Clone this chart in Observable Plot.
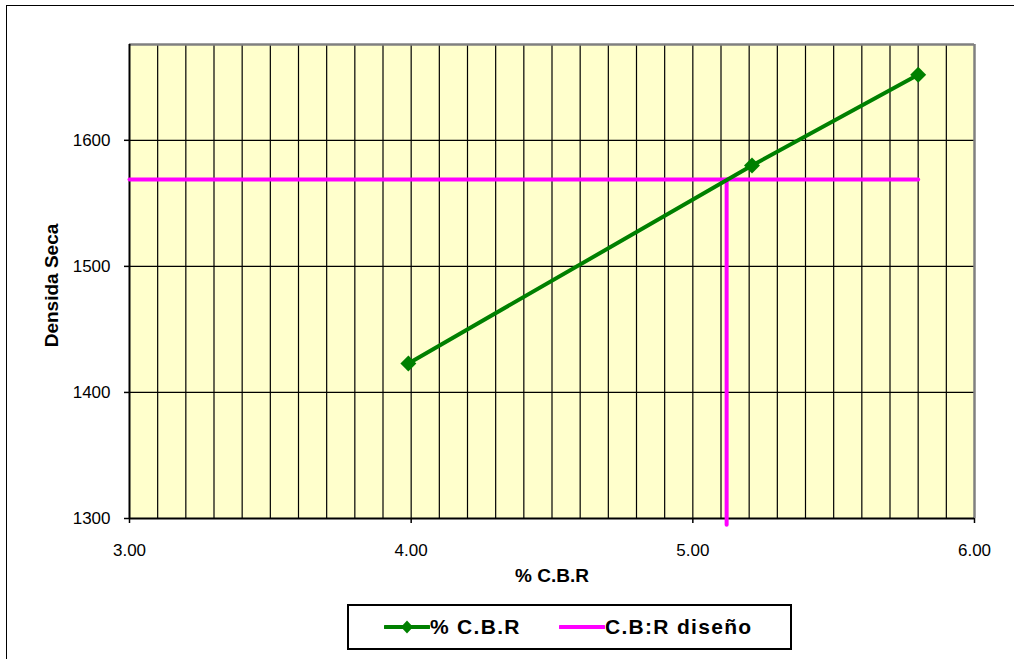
<!DOCTYPE html>
<html>
<head>
<meta charset="utf-8">
<script src="https://cdn.jsdelivr.net/npm/d3@7"></script>
<script src="https://cdn.jsdelivr.net/npm/@observablehq/plot@0.6"></script>
<style>
  html, body { margin: 0; padding: 0; background: #fff; overflow: hidden; }
  body { width: 1014px; height: 659px; position: relative; font-family: "Liberation Sans", Arial, sans-serif; }
  #border { position: absolute; left: 6px; top: 5px; width: 1030px; height: 700px; border: 1.5px solid #000; }
  #chart { position: absolute; left: 0; top: 0; }
  #legend { position: absolute; left: 347px; top: 604px; width: 441px; height: 42px; border: 2px solid #000; background: #fff;
            font-weight: bold; font-size: 21px; letter-spacing: 1.3px; color: #000; }
  .item { display: flex; align-items: center; position: absolute; top: 0; height: 42px; }
</style>
</head>
<body>
<div id="border"></div>
<div id="chart"></div>
<div id="legend">
  <div class="item" style="left:35px">
    <svg width="46" height="16"><line x1="1" y1="8" x2="45" y2="8" stroke="#008000" stroke-width="4" stroke-linecap="round"/><path d="M23,1.5 L29,8 L23,14.5 L17,8 Z" fill="#008000"/></svg>
    <span>% C.B.R</span>
  </div>
  <div class="item" style="left:210px">
    <svg width="46" height="16"><line x1="1" y1="8" x2="45" y2="8" stroke="#ff00ff" stroke-width="4" stroke-linecap="round"/></svg>
    <span>C.B:R diseño</span>
  </div>
</div>
<script>
// Data
const cbr = [3.99, 5.21, 5.80];          // % C.B.R
const density = [1423, 1580, 1652];       // Densidad seca
const designDensity = 1569;               // horizontal design line level
const designLineEnd = 5.80;               // x end of the horizontal design line
const designCBR = 5.12;                   // vertical design line position
const designBottom = 1295;                // vertical design line lower end
const xTicks = [3, 4, 5, 6];
const yTicks = [1300, 1400, 1500, 1600];
const xMinorGrid = [3.1,3.2,3.3,3.4,3.5,3.6,3.7,3.8,3.9,4.0,4.1,4.2,4.3,4.4,4.5,4.6,4.7,4.8,4.9,5.0,5.1,5.2,5.3,5.4,5.5,5.6,5.7,5.8,5.9];
const yGrid = [1400, 1500, 1600];
const xDomain = [3, 6];
const yDomain = [1300, 1676];

const points = cbr.map((x, i) => ({x, y: density[i]}));
const hLine = [{x: xDomain[0], y: designDensity}, {x: designLineEnd, y: designDensity}];
const vLine = [{x: designCBR, y: designDensity}, {x: designCBR, y: designBottom}];

const chart = Plot.plot({
  width: 1014,
  height: 600,
  marginLeft: 129,
  marginRight: 40,
  marginTop: 44,
  marginBottom: 82,
  style: {fontFamily: "'Liberation Sans', Arial, sans-serif", background: "transparent", color: "#000"},
  x: {domain: xDomain},
  y: {domain: yDomain},
  marks: [
    Plot.frame({fill: "#ffffcc", stroke: "none"}),
    Plot.ruleX(xMinorGrid, {stroke: "#000", strokeWidth: 1.2}),
    Plot.ruleY(yGrid, {stroke: "#000", strokeWidth: 1.2}),
    Plot.ruleY([yDomain[1]], {stroke: "#808080", strokeWidth: 2.5}),
    Plot.ruleX([xDomain[1]], {stroke: "#808080", strokeWidth: 2.5}),
    Plot.ruleX([xDomain[0]], {stroke: "#000", strokeWidth: 2}),
    Plot.ruleY([yDomain[0]], {stroke: "#000", strokeWidth: 2}),
    Plot.axisY({ticks: yTicks, tickSize: 5, tickPadding: 14, fontSize: 17, label: null, stroke: "#000", strokeWidth: 1.5, tickFormat: d => String(d)}),
    Plot.axisX({ticks: xTicks, tickSize: 5, tickPadding: 20, fontSize: 17, label: null, stroke: "#000", strokeWidth: 1.5, tickFormat: d => d.toFixed(2)}),
    Plot.line(hLine, {x: "x", y: "y", stroke: "#ff00ff", strokeWidth: 4}),
    Plot.line(vLine, {x: "x", y: "y", stroke: "#ff00ff", strokeWidth: 4}),
    Plot.line(points, {x: "x", y: "y", stroke: "#008000", strokeWidth: 4}),
    Plot.dot(points, {x: "x", y: "y", symbol: "diamond2", r: 7.2, fill: "#008000", stroke: "none"}),
    Plot.text(["% C.B.R"], {frameAnchor: "bottom", dy: 57, lineAnchor: "middle", textAnchor: "middle", fontSize: 19, fontWeight: "bold", fill: "#000"}),
    Plot.text(["Densida Seca"], {frameAnchor: "left", dx: -78, dy: 4, rotate: -90, textAnchor: "middle", lineAnchor: "middle", fontSize: 19, fontWeight: "bold", fill: "#000"})
  ]
});
document.getElementById("chart").appendChild(chart);
</script>
</body>
</html>
